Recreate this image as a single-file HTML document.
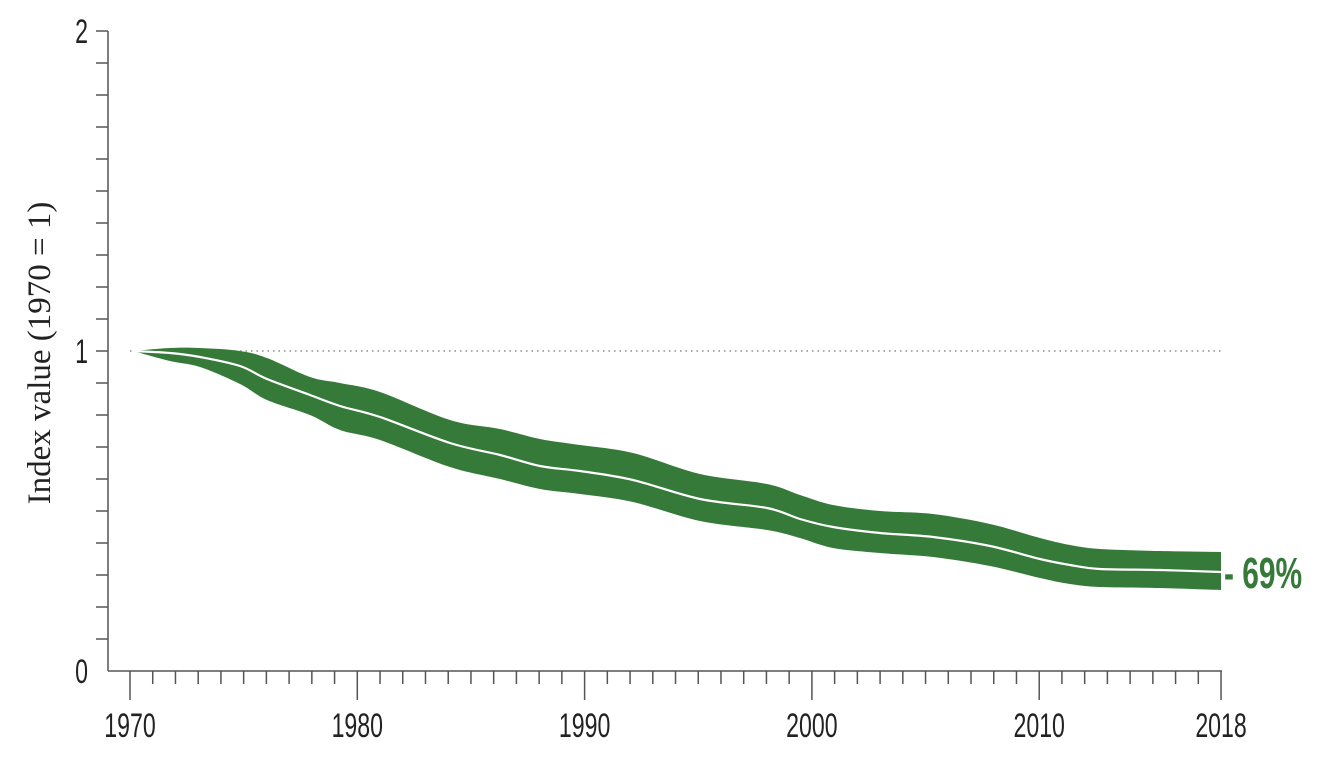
<!DOCTYPE html>
<html><head><meta charset="utf-8"><style>
html,body{margin:0;padding:0;background:#fff;width:1318px;height:768px;overflow:hidden}
text{font-family:"Liberation Sans",sans-serif}
</style></head><body>
<svg width="1318" height="768" viewBox="0 0 1318 768">
<g stroke="#555" stroke-width="1.5" fill="none">
<line x1="108" y1="31" x2="108" y2="671"/>
<line x1="108" y1="671" x2="1222" y2="671"/>
<path d="M96 31H108M96 63H108M96 95H108M96 127H108M96 159H108M96 191H108M96 223H108M96 255H108M96 287H108M96 319H108M96 351H108M96 383H108M96 415H108M96 447H108M96 479H108M96 511H108M96 543H108M96 575H108M96 607H108M96 639H108"/>
</g>
<g id="ticks" stroke="#555" stroke-width="1.5"></g>
<line x1="130" y1="351" x2="1222" y2="351" stroke="#777" stroke-width="1.2" stroke-dasharray="1.5 4"/>
<path id="band" fill="#367a3a"/>
<path id="mid" fill="none" stroke="#fff" stroke-width="2.2"/>
<g font-size="34" fill="#222">
<text x="88" y="43" text-anchor="end" transform="translate(88 0) scale(0.68 1) translate(-88 0)">2</text>
<text x="88" y="363" text-anchor="end" transform="translate(88 0) scale(0.68 1) translate(-88 0)">1</text>
<text x="88" y="683" text-anchor="end" transform="translate(88 0) scale(0.68 1) translate(-88 0)">0</text>
</g>
<g id="xl" font-size="34" fill="#222"></g>
<text transform="translate(50 353) rotate(-90)" text-anchor="middle" font-size="33" fill="#222" style="font-family:'Liberation Serif',serif">Index value (1970 = 1)</text>
<text x="1224" y="588" font-size="44" font-weight="bold" fill="#367a3a" transform="translate(1224 0) scale(0.68 1) translate(-1224 0)">- 69%</text>
</svg>
<script>
var X=y=>130+(y-1970)*22.73;
var t='';for(var y=1970;y<=2018;y++){var maj=(y%10==0||y==2018);t+='<line x1="'+X(y)+'" y1="671" x2="'+X(y)+'" y2="'+(maj?700:684)+'"/>';}
document.getElementById('ticks').innerHTML=t;
var l='';[1970,1980,1990,2000,2010,2018].forEach(function(y){var x=X(y);l+='<text x="'+x+'" y="737" text-anchor="middle" transform="translate('+x+' 0) scale(0.68 1) translate('+(-x)+' 0)">'+y+'</text>';});
document.getElementById('xl').innerHTML=l;
var d=[[133,351,351,351],[170,348,353,361],[200,348,357,367],[240,351,366,384],[267,358,379,400],[310,377,395,415],[340,383,406,430],[380,392,417,440],[450,420,443,467],[500,429,455,479],[540,439,466,489],[580,445,471,494],[633,453,480,502],[700,474,499,521],[767,484,508,530],[800,495,519,538],[833,505,527,548],[880,511,533,553],[933,514,537,557],[990,524,546,566],[1040,538,559,578],[1070,545,565,584],[1100,549,569,587],[1160,551,570,588],[1221,552,572,590]];
function sm(pts){var s='M'+pts[0][0]+' '+pts[0][1];for(var i=1;i<pts.length;i++){var p0=pts[i-2]||pts[i-1],p1=pts[i-1],p2=pts[i],p3=pts[i+1]||p2;s+='C'+(p1[0]+(p2[0]-p0[0])/6).toFixed(1)+' '+(p1[1]+(p2[1]-p0[1])/6).toFixed(1)+' '+(p2[0]-(p3[0]-p1[0])/6).toFixed(1)+' '+(p2[1]-(p3[1]-p1[1])/6).toFixed(1)+' '+p2[0]+' '+p2[1];}return s;}
var up=d.map(q=>[q[0],q[1]]),md=d.map(q=>[q[0],q[2]]),lo=d.map(q=>[q[0],q[3]]).reverse();
document.getElementById('band').setAttribute('d',sm(up)+'L'+sm(lo).slice(1)+'Z');
document.getElementById('mid').setAttribute('d',sm(md));
</script>
</body></html>
